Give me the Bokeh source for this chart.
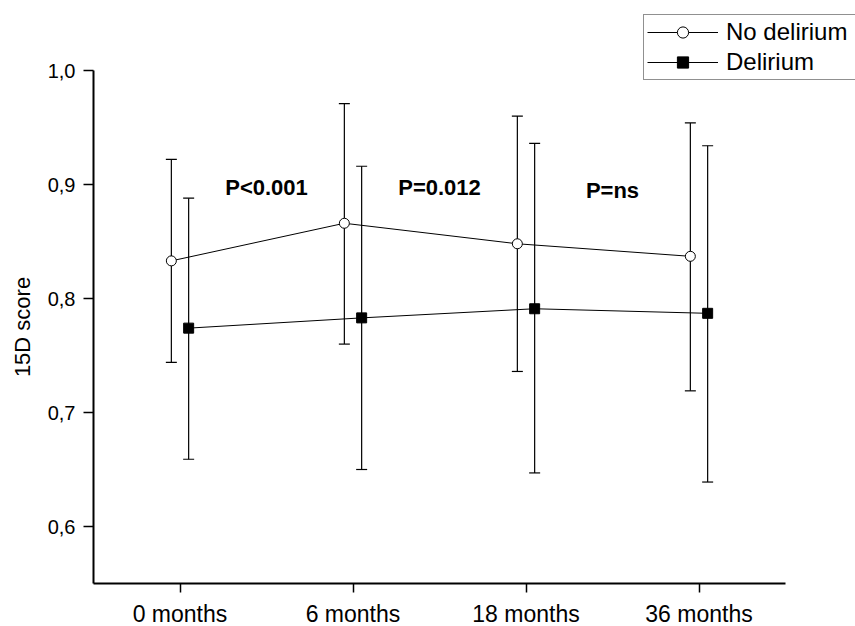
from bokeh.plotting import figure
from bokeh.models import (ColumnDataSource, Range1d, Whisker, TeeHead,
                          Legend, LegendItem, FixedTicker, CustomJSTickFormatter)
from bokeh.transform import dodge
from bokeh.core.properties import value
from bokeh.embed import file_html
from bokeh.resources import INLINE

# ---- data ----
categories = ["0 months", "6 months", "18 months", "36 months"]

no_delirium_mean = [0.833, 0.866, 0.848, 0.837]
no_delirium_upper = [0.922, 0.971, 0.960, 0.954]
no_delirium_lower = [0.744, 0.760, 0.736, 0.719]

delirium_mean = [0.774, 0.783, 0.791, 0.787]
delirium_upper = [0.888, 0.916, 0.936, 0.934]
delirium_lower = [0.659, 0.650, 0.647, 0.639]

p_labels = ["P<0.001", "P=0.012", "P=ns"]
p_label_after = [0, 1, 2]          # label sits between this category and the next
p_label_y = [0.897, 0.897, 0.895]

y_ticks = [0.6, 0.7, 0.8, 0.9, 1.0]

FONT = "Liberation Sans"
W, H = 855, 626
# plot-area placement in pixels (layout only)
LEFT, RIGHT, TOP, BOTTOM = 93, 785, 70, 583
Y0, Y1 = 0.55, 1.0
X0, X1 = -0.5, len(categories) - 0.5

xpx = (RIGHT - LEFT) / (X1 - X0)
ypx = (BOTTOM - TOP) / (Y1 - Y0)

idx = list(range(len(categories)))
src_nd = ColumnDataSource(dict(x=idx, mean=no_delirium_mean,
                               upper=no_delirium_upper, lower=no_delirium_lower))
src_d = ColumnDataSource(dict(x=idx, mean=delirium_mean,
                              upper=delirium_upper, lower=delirium_lower))
src_p = ColumnDataSource(dict(after=p_label_after, y=p_label_y, label=p_labels))

p = figure(width=W, height=H,
           x_range=Range1d(X0 - LEFT / xpx, X1 + (W - RIGHT) / xpx),
           y_range=Range1d(Y0 - (H - BOTTOM) / ypx, Y1 + TOP / ypx),
           output_backend="svg", toolbar_location=None,
           min_border_left=0, min_border_right=0,
           min_border_top=0, min_border_bottom=0)

p.outline_line_color = None
p.xgrid.visible = False
p.ygrid.visible = False
p.background_fill_color = "white"
p.border_fill_color = "white"

x_nd = dodge("x", -0.05)
x_d = dodge("x", 0.05)

# error bars
for src, xx in ((src_nd, x_nd), (src_d, x_d)):
    w = Whisker(base=xx, upper="upper", lower="lower", source=src,
                line_color="black", line_width=1.2, level="underlay",
                upper_head=TeeHead(size=11, line_color="black", line_width=1.2),
                lower_head=TeeHead(size=11, line_color="black", line_width=1.2))
    p.add_layout(w)

r_nd_line = p.line(x=x_nd, y="mean", source=src_nd, line_color="black", line_width=1)
r_d_line = p.line(x=x_d, y="mean", source=src_d, line_color="black", line_width=1)
r_nd_pt = p.scatter(x=x_nd, y="mean", source=src_nd, marker="circle", size=10,
                    fill_color="white", line_color="black", line_width=1)
r_d_pt = p.scatter(x=x_d, y="mean", source=src_d, marker="square", size=10,
                   fill_color="black", line_color="black", line_width=1)

p.text(x=dodge("after", 0.5), y="y", text="label", source=src_p,
       text_font=value(FONT), text_font_style="bold", text_font_size=value("22px"),
       text_align="center", text_baseline="middle", text_color="black")

# axes
for ax in (p.xaxis[0], p.yaxis[0]):
    ax.axis_line_width = 2
    ax.axis_line_color = "black"
    ax.major_tick_line_width = 1.5
    ax.major_tick_line_color = "black"
    ax.major_tick_in = 0
    ax.minor_tick_line_color = None
    ax.major_label_text_font = FONT
    ax.major_label_text_color = "black"

p.xaxis.fixed_location = Y0
p.xaxis.bounds = (X0, X1)
p.xaxis.ticker = FixedTicker(ticks=idx, minor_ticks=[])
p.xaxis.major_label_overrides = {i: c for i, c in zip(idx, categories)}
p.xaxis.major_tick_out = 9
p.xaxis.major_label_text_font_size = "23px"
p.xaxis.major_label_standoff = 8

p.yaxis.fixed_location = X0
p.yaxis.bounds = (Y0, Y1)
p.yaxis.ticker = FixedTicker(ticks=y_ticks, minor_ticks=[])
p.yaxis.formatter = CustomJSTickFormatter(code="return tick.toFixed(1).replace('.', ',');")
p.yaxis.major_tick_out = 10
p.yaxis.major_label_text_font_size = "20px"
p.yaxis.major_label_standoff = 8
p.yaxis.axis_label = "15D score"
p.yaxis.axis_label_text_font = FONT
p.yaxis.axis_label_text_font_size = "22px"
p.yaxis.axis_label_text_font_style = "normal"
p.yaxis.axis_label_text_color = "black"
p.yaxis.axis_label_standoff = 10

legend = Legend(items=[LegendItem(label="No delirium", renderers=[r_nd_line, r_nd_pt]),
                       LegendItem(label="Delirium", renderers=[r_d_line, r_d_pt])],
                location=(643, H - 80), orientation="vertical",
                label_text_font=FONT, label_text_font_size="24px", label_text_color="black",
                glyph_width=71, glyph_height=28, label_height=28, label_width=200,
                label_standoff=8, spacing=2, padding=3, margin=0,
                border_line_color="#222222", border_line_width=1.5,
                background_fill_color="white", background_fill_alpha=1.0)
p.add_layout(legend)

open("out.html", "w").write(file_html(p, INLINE))
